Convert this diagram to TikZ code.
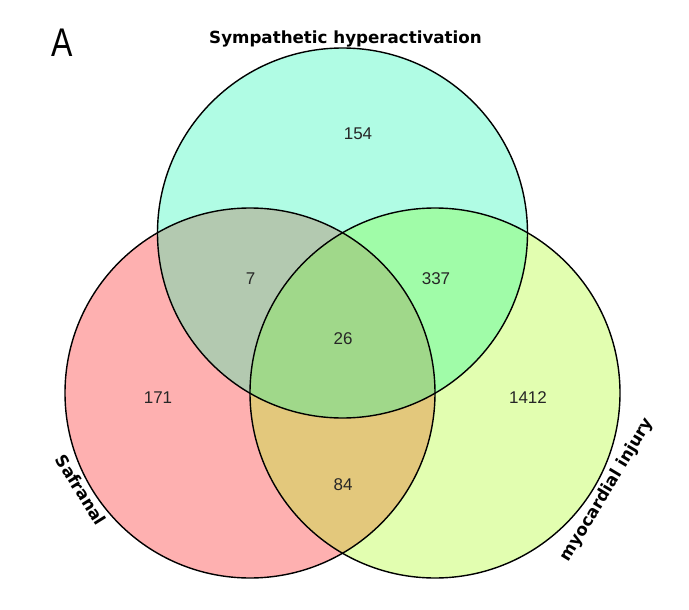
\documentclass[tikz,border=0pt]{standalone}
\usepackage{fontspec}
\setmainfont{Liberation Sans}
\newfontfamily\labfont{DejaVu Sans}
\definecolor{cT}{HTML}{B0FCE4}
\definecolor{cL}{HTML}{FEB0B0}
\definecolor{cR}{HTML}{E2FEB0}
\definecolor{cTL}{HTML}{B3C9B0}
\definecolor{cTR}{HTML}{A0FCA8}
\definecolor{cLR}{HTML}{E3C87C}
\definecolor{cTLR}{HTML}{A0D88A}
\definecolor{numcol}{HTML}{262626}
\begin{document}
\begin{tikzpicture}[x=1pt,y=-1pt,
  num/.style={inner sep=0pt,text=numcol,font=\fontsize{17}{20}\selectfont},
  setlabel/.style={inner sep=0pt,font=\labfont\bfseries\fontsize{16.7}{20}\selectfont},
  ring/.style={draw=black,line width=1.4pt}]
\useasboundingbox (0,0) rectangle (689,610);
\coordinate (T) at (342.5,233);
\coordinate (L) at (250,393);
\coordinate (R) at (435,393);
\def\rad{185pt}
% single regions
\fill[cT] (T) circle[radius=\rad];
\fill[cL] (L) circle[radius=\rad];
\fill[cR] (R) circle[radius=\rad];
% pairwise
\begin{scope}
  \clip (T) circle[radius=\rad];
  \fill[cTL] (L) circle[radius=\rad];
  \fill[cTR] (R) circle[radius=\rad];
\end{scope}
\begin{scope}
  \clip (L) circle[radius=\rad];
  \fill[cLR] (R) circle[radius=\rad];
\end{scope}
\begin{scope}
  \clip (T) circle[radius=\rad];
  \clip (L) circle[radius=\rad];
  \fill[cTLR] (R) circle[radius=\rad];
\end{scope}
% outlines
\draw[ring] (T) circle[radius=\rad];
\draw[ring] (L) circle[radius=\rad];
\draw[ring] (R) circle[radius=\rad];
% counts
\node[num] (n154) at (358,134) {154};
\node[num] (n7) at (250.5,279) {7};
\node[num] (n337) at (436,279) {337};
\node[num] (n26) at (343,339) {26};
\node[num] (n171) at (158,398) {171};
\node[num] (n1412) at (528,398) {1412};
\node[num] (n84) at (343,485) {84};
% set labels
\node[setlabel,anchor=base] (lT) at (345.5,43.5) {Sympathetic hyperactivation};
\node[setlabel,rotate=-58] (lL) at (81,490) {Safranal};
\node[setlabel,rotate=59] (lR) at (607,490) {myocardial injury};
% panel letter
\node[inner sep=0pt,font=\fontsize{40}{44}\selectfont] (pA) at (62.5,42.5) {\scalebox{0.8}[1]{A}};
\end{tikzpicture}
\end{document}
